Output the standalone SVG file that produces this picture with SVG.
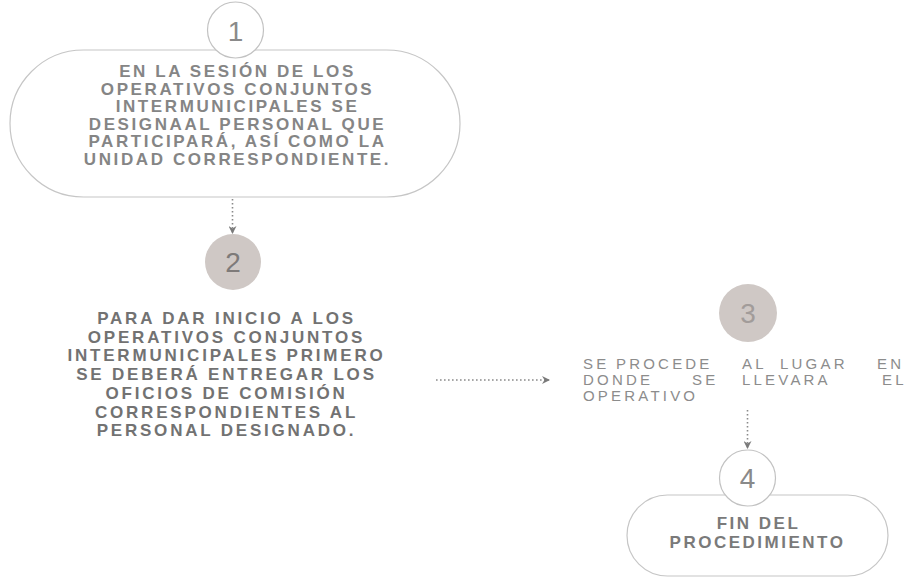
<svg xmlns="http://www.w3.org/2000/svg" width="906" height="578" viewBox="0 0 906 578">
<defs>
<style>
.bg{fill:#ffffff}
.pill{fill:#ffffff;stroke:#c6c6c6;stroke-width:1.2}
.ring{fill:#ffffff;stroke:#c2c2c2;stroke-width:1.2}
.disc{fill:#cfc8c5;stroke:none}
.num{font-family:"Liberation Sans",Arial,sans-serif;font-size:28px;fill:#8a8a8a;text-anchor:middle}
.t1{font-family:"Liberation Sans",Arial,sans-serif;font-size:17px;font-weight:700;fill:#858585;letter-spacing:2.6px;text-anchor:middle}
.t2{font-family:"Liberation Sans",Arial,sans-serif;font-size:17px;font-weight:700;fill:#727272;letter-spacing:2.8px;text-anchor:middle}
.t3{font-family:"Liberation Sans",Arial,sans-serif;font-size:15px;fill:#8c8c8c;letter-spacing:3.2px}
.t4{font-family:"Liberation Sans",Arial,sans-serif;font-size:17px;font-weight:700;fill:#7a7a7a;letter-spacing:2.5px;text-anchor:middle}
.dot{fill:none;stroke:#8a8a8a;stroke-width:1.6;stroke-dasharray:1.6 2.4}
</style>
<marker id="ah" viewBox="0 0 8 8" refX="7" refY="4" markerWidth="8" markerHeight="8" markerUnits="userSpaceOnUse" orient="auto">
<path d="M0,0 L8,4 L0,8 L2.5,4 Z" fill="#7a7a7a"/>
</marker>
</defs>
<rect class="bg" x="0" y="0" width="906" height="578"/>

<g id="connectors">
<line class="dot" x1="232.5" y1="199" x2="232.5" y2="233" marker-end="url(#ah)"/>
<line class="dot" x1="436" y1="380" x2="549" y2="380" marker-end="url(#ah)"/>
<line class="dot" x1="747.5" y1="410" x2="747.5" y2="448" marker-end="url(#ah)"/>
</g>

<g id="node1">
<rect class="pill" x="10" y="50" width="450" height="147" rx="73.5" ry="73.5"/>
<circle class="ring" cx="235.5" cy="30" r="28"/>
<text class="num" x="235.5" y="41">1</text>
<text class="t1" x="237.5" y="77">EN LA SESIÓN DE LOS</text>
<text class="t1" x="237.5" y="94.5">OPERATIVOS CONJUNTOS</text>
<text class="t1" x="237.5" y="112">INTERMUNICIPALES SE</text>
<text class="t1" x="237.5" y="129.5">DESIGNAAL PERSONAL QUE</text>
<text class="t1" x="237.5" y="147">PARTICIPARÁ, ASÍ COMO LA</text>
<text class="t1" x="237.5" y="164.5">UNIDAD CORRESPONDIENTE.</text>
</g>

<g id="node2">
<circle class="disc" cx="233" cy="262" r="28"/>
<text class="num" x="233" y="272" style="fill:#7e7a79">2</text>
<text class="t2" x="226.5" y="324">PARA DAR INICIO A LOS</text>
<text class="t2" x="226.5" y="342.7">OPERATIVOS CONJUNTOS</text>
<text class="t2" x="226.5" y="361.4">INTERMUNICIPALES PRIMERO</text>
<text class="t2" x="226.5" y="380.1">SE DEBERÁ ENTREGAR LOS</text>
<text class="t2" x="226.5" y="398.8">OFICIOS DE COMISIÓN</text>
<text class="t2" x="226.5" y="417.5">CORRESPONDIENTES AL</text>
<text class="t2" x="226.5" y="436.2">PERSONAL DESIGNADO.</text>
</g>

<g id="node3">
<circle class="disc" cx="748" cy="313" r="29"/>
<text class="num" x="748" y="323" style="fill:#a29c9a">3</text>
<text class="t3"><tspan x="583" y="369">SE</tspan><tspan x="616" y="369">PROCEDE</tspan><tspan x="742" y="369">AL</tspan><tspan x="780" y="369">LUGAR</tspan><tspan x="877" y="369">EN</tspan><tspan x="583" y="385">DONDE</tspan><tspan x="692" y="385">SE</tspan><tspan x="742" y="385">LLEVARA</tspan><tspan x="882" y="385">EL</tspan><tspan x="583" y="401">OPERATIVO</tspan></text>
</g>

<g id="node4">
<rect class="pill" x="627" y="495" width="261" height="81" rx="40.5" ry="40.5"/>
<circle class="ring" cx="747.5" cy="478" r="28"/>
<text class="num" x="747.5" y="488">4</text>
<text class="t4" x="758.5" y="529">FIN DEL</text>
<text class="t4" x="757.5" y="547.5">PROCEDIMIENTO</text>
</g>
</svg>
